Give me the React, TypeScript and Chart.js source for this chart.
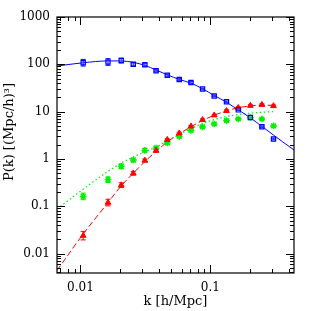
import React, { useEffect, useRef } from "react";
import { Chart, registerables } from "chart.js";

Chart.register(...registerables);

// k bins of the measured points [h/Mpc]
const kBins = [0.0105, 0.0163, 0.0206, 0.0255, 0.0313, 0.0382, 0.0466, 0.0576, 0.0709, 0.087, 0.107, 0.133, 0.164, 0.203, 0.249, 0.306];

// measured points (blue squares, green stars, red triangles)
const blueP = [108, 112, 120, 100, 98, 73, 58.6, 48, 41.5, 30, 21.5, 16.2, 10.9, 7.5, 4.8, 2.65];
const greenP = [0.162, 0.365, 0.7, 0.95, 1.52, 1.71, 2.18, 3.0, 4.0, 4.75, 5.5, 6.5, 7.0, 7.5, 7.0, 5.0];
const redP = [0.024, 0.12, 0.28, 0.5, 0.93, 1.5, 2.55, 3.5, 4.9, 6.7, 8.4, 10.4, 12.1, 13.4, 14.0, 13.2];

// error bars, half-widths in dex
const blueErr = [0.07, 0.07, 0.05, 0.03, 0.03, 0.02, 0.02, 0.02, 0.02, 0.015, 0.015, 0.015, 0.015, 0.015, 0.015, 0.015];
const greenErr = [0.07, 0.06, 0.05, 0.04, 0.03, 0.03, 0.03, 0.02, 0.02, 0.02, 0.02, 0.02, 0.02, 0.02, 0.02, 0.02];
const redErr = [0.09, 0.07, 0.05, 0.04, 0.03, 0.03, 0.02, 0.02, 0.02, 0.02, 0.02, 0.02, 0.02, 0.02, 0.02, 0.02];

// model curves
const lineK = [0.0066, 0.0105, 0.0163, 0.0206, 0.0255, 0.0313, 0.0382, 0.0466, 0.0576, 0.0709, 0.087, 0.107, 0.133, 0.164, 0.203, 0.249, 0.306, 0.36, 0.44];
const blueLine = [92, 108, 118, 118, 110, 95, 76, 60, 48, 40, 30.5, 22, 15.8, 10.9, 7.4, 4.9, 3.2, 2.3, 1.55];
const greenLine = [0.088, 0.23, 0.55, 0.82, 1.1, 1.42, 1.78, 2.45, 3.3, 4.4, 5.6, 6.8, 7.9, 8.7, 9.3, 9.7, 10.0];
const redLine = [0.0044, 0.026, 0.12, 0.27, 0.5, 0.88, 1.45, 2.3, 3.4, 4.8, 6.5, 8.4, 10.4, 12.1, 13.2, 13.8, 13.5];

// axes
const xTicks = [0.01, 0.1];
const yTicks = [0.01, 0.1, 1, 10, 100, 1000];
const xMin = 0.0066;
const xMax = 0.44;
const yMin = 0.0039;
const yMax = 1000;

const xTitle = "k [h/Mpc]";
const yTitle = "P(k) [(Mpc/h)\u00B3]";

const BLUE = "#0000ff";
const GREEN = "#00ee00";
const RED = "#ff0000";
const FONT = '"DejaVu Serif", serif';

const errorSeries = [
  { values: blueP, err: blueErr, color: BLUE },
  { values: greenP, err: greenErr, color: GREEN },
  { values: redP, err: redErr, color: RED },
];

const errorBarPlugin = {
  id: "errorBars",
  beforeDatasetsDraw(chart: any) {
    const { ctx, chartArea, scales } = chart;
    const x = scales.x;
    const y = scales.y;
    ctx.save();
    ctx.beginPath();
    ctx.rect(chartArea.left, chartArea.top, chartArea.right - chartArea.left, chartArea.bottom - chartArea.top);
    ctx.clip();
    ctx.lineWidth = 1;
    for (const s of errorSeries) {
      ctx.strokeStyle = s.color;
      s.values.forEach((v, i) => {
        const px = x.getPixelForValue(kBins[i]);
        const lo = y.getPixelForValue(v * Math.pow(10, -s.err[i]));
        const hi = y.getPixelForValue(v * Math.pow(10, s.err[i]));
        ctx.beginPath();
        ctx.moveTo(px, lo);
        ctx.lineTo(px, hi);
        ctx.moveTo(px - 2.5, lo);
        ctx.lineTo(px + 2.5, lo);
        ctx.moveTo(px - 2.5, hi);
        ctx.lineTo(px + 2.5, hi);
        ctx.stroke();
      });
    }
    ctx.restore();
  },
};

function logMarks(min: number, max: number) {
  const out: { v: number; major: boolean }[] = [];
  for (let e = Math.floor(Math.log10(min)); e <= Math.ceil(Math.log10(max)); e++) {
    for (let m = 1; m <= 9; m++) {
      const v = m * Math.pow(10, e);
      if (v >= min * 0.9999 && v <= max * 1.0001) out.push({ v, major: m === 1 });
    }
  }
  return out;
}

const framePlugin = {
  id: "frame",
  afterDraw(chart: any) {
    const { ctx, chartArea, scales } = chart;
    const { left, right, top, bottom } = chartArea;
    const x = scales.x;
    const y = scales.y;
    ctx.save();
    ctx.strokeStyle = "#000";
    ctx.lineWidth = 1.2;
    ctx.strokeRect(left, top, right - left, bottom - top);
    ctx.lineWidth = 1;
    ctx.beginPath();
    for (const t of logMarks(xMin, xMax)) {
      const px = Math.round(x.getPixelForValue(t.v)) + 0.5;
      const len = t.major ? 8 : 4;
      ctx.moveTo(px, bottom);
      ctx.lineTo(px, bottom - len);
      ctx.moveTo(px, top);
      ctx.lineTo(px, top + len);
    }
    for (const t of logMarks(yMin, yMax)) {
      const py = Math.round(y.getPixelForValue(t.v)) + 0.5;
      const len = t.major ? 8 : 4;
      ctx.moveTo(left, py);
      ctx.lineTo(left + len, py);
      ctx.moveTo(right, py);
      ctx.lineTo(right - len, py);
    }
    ctx.stroke();

    ctx.fillStyle = "#000";
    ctx.font = "13px " + FONT;
    ctx.textAlign = "center";
    ctx.textBaseline = "middle";
    ctx.fillText(xTitle, (left + right) / 2, 302);
    ctx.translate(10, 132);
    ctx.rotate(-Math.PI / 2);
    ctx.fillText(yTitle, 0, 0);
    ctx.restore();
  },
};

export default function App() {
  const ref = useRef<HTMLCanvasElement>(null);
  useEffect(() => {
    document.body.style.margin = "0";
    if (!ref.current) return;
    const pts = (vals: number[], ks: number[]) => vals.map((v, i) => ({ x: ks[i], y: v }));
    const chart = new Chart(ref.current, {
      type: "line",
      data: {
        datasets: [
          {
            label: "blue pts",
            data: pts(blueP, kBins),
            showLine: false,
            pointStyle: "rect",
            pointRadius: 3,
            pointBorderWidth: 1.2,
            pointBorderColor: BLUE,
            pointBackgroundColor: "rgba(120,140,255,0.3)",
            order: 1,
          },
          {
            label: "red pts",
            data: pts(redP, kBins),
            showLine: false,
            pointStyle: "triangle",
            pointRadius: 3.3,
            pointBorderWidth: 1,
            pointBorderColor: RED,
            pointBackgroundColor: RED,
            order: 2,
          },
          {
            label: "green pts",
            data: pts(greenP, kBins),
            showLine: false,
            pointStyle: "star",
            pointRadius: 3.3,
            pointBorderWidth: 1.5,
            pointBorderColor: GREEN,
            pointBackgroundColor: GREEN,
            order: 3,
          },
          {
            label: "blue model",
            data: pts(blueLine, lineK),
            borderColor: BLUE,
            borderWidth: 1,
            pointRadius: 0,
            cubicInterpolationMode: "monotone",
            order: 4,
          },
          {
            label: "red model",
            data: pts(redLine, lineK),
            borderColor: RED,
            borderWidth: 1,
            borderDash: [6, 3],
            pointRadius: 0,
            cubicInterpolationMode: "monotone",
            order: 5,
          },
          {
            label: "green model",
            data: pts(greenLine, lineK),
            borderColor: GREEN,
            borderWidth: 1.2,
            borderDash: [1.5, 2.5],
            pointRadius: 0,
            cubicInterpolationMode: "monotone",
            order: 6,
          },
        ],
      },
      options: {
        responsive: false,
        animation: false,
        clip: 0 as any,
        layout: { padding: { top: 17, right: 17, left: 0, bottom: 0 } },
        plugins: { legend: { display: false }, tooltip: { enabled: false }, title: { display: false } },
        scales: {
          x: {
            type: "logarithmic",
            min: xMin,
            max: xMax,
            grid: { display: false, drawTicks: false },
            border: { display: false },
            afterBuildTicks: (s: any) => {
              s.ticks = xTicks.map((v) => ({ value: v, major: true }));
            },
            afterFit: (s: any) => {
              s.height = 38;
            },
            ticks: {
              autoSkip: false,
              maxRotation: 0,
              padding: 8,
              color: "#000",
              font: { family: FONT, size: 12 },
              callback: (v: any) => String(v),
            },
          },
          y: {
            type: "logarithmic",
            min: yMin,
            max: yMax,
            grid: { display: false, drawTicks: false },
            border: { display: false },
            afterBuildTicks: (s: any) => {
              s.ticks = yTicks.map((v) => ({ value: v, major: true }));
            },
            afterFit: (s: any) => {
              s.width = 57;
            },
            ticks: {
              autoSkip: false,
              padding: 7,
              color: "#000",
              font: { family: FONT, size: 12 },
              callback: (v: any) => String(v),
            },
          },
        },
      },
      plugins: [errorBarPlugin, framePlugin],
    });
    return () => chart.destroy();
  }, []);
  return (
    <div style={{ width: 311, height: 311, background: "#fff" }}>
      <canvas ref={ref} width={311} height={311} />
    </div>
  );
}
